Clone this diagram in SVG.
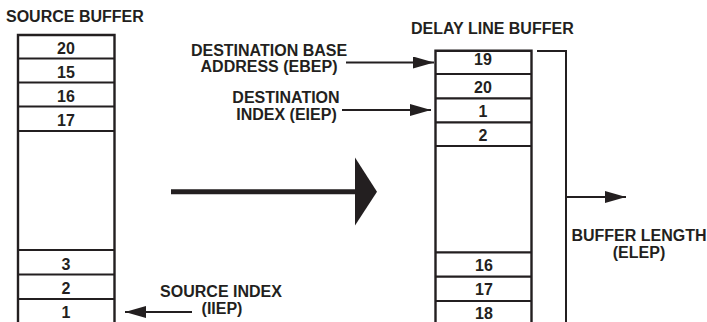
<svg xmlns="http://www.w3.org/2000/svg" width="707" height="322" viewBox="0 0 707 322">
<style>
text{font-family:"Liberation Sans",Arial,sans-serif;font-weight:bold;font-size:16px;fill:#231f20}
.m{text-anchor:middle}
.box{fill:none;stroke:#231f20;stroke-width:2.4}
.sep{stroke:#231f20;stroke-width:2.2}
.conn{fill:none;stroke:#231f20;stroke-width:2}
</style>
<defs>
<marker id="ah" markerUnits="userSpaceOnUse" markerWidth="21" markerHeight="12" refX="21" refY="6" orient="auto">
<path d="M0,0 L21,6 L0,12 z" fill="#231f20"/>
</marker>
</defs>
<rect width="707" height="322" fill="#fff"/>
<text x="6" y="21.5">SOURCE BUFFER</text>
<text x="411" y="34">DELAY LINE BUFFER</text>
<g id="source-buffer">
<path class="box" d="M18,330 V35 H114.5 V330"/>
<path class="sep" d="M18,58.5 H114.5 M18,82.5 H114.5 M18,106.5 H114.5 M18,131 H114.5 M18,250 H114.5 M18,274.5 H114.5 M18,299 H114.5"/>
<text class="m" x="66" y="54">20</text>
<text class="m" x="66" y="78">15</text>
<text class="m" x="66" y="102">16</text>
<text class="m" x="66" y="126">17</text>
<text class="m" x="66" y="269.5">3</text>
<text class="m" x="66" y="294">2</text>
<text class="m" x="66" y="318">1</text>
</g>
<g id="delay-buffer">
<path class="box" d="M435.5,330 V50.7 H531.5 V330"/>
<path class="sep" d="M435.5,74 H531.5 M435.5,98.3 H531.5 M435.5,122.3 H531.5 M435.5,146 H531.5 M435.5,252.3 H531.5 M435.5,276.7 H531.5 M435.5,301 H531.5"/>
<text class="m" x="483" y="65">19</text>
<text class="m" x="483" y="93.3">20</text>
<text class="m" x="483" y="117.3">1</text>
<text class="m" x="483" y="141">2</text>
<text class="m" x="484" y="270.5">16</text>
<text class="m" x="484" y="295">17</text>
<text class="m" x="484" y="318.5">18</text>
</g>
<g id="label-ebep">
<text class="m" x="269" y="55.5">DESTINATION BASE</text>
<text class="m" x="269" y="71.5">ADDRESS (EBEP)</text>
</g>
<g id="label-eiep">
<text class="m" x="286" y="103">DESTINATION</text>
<text class="m" x="286.5" y="119.5">INDEX (EIEP)</text>
</g>
<g id="label-iiep">
<text class="m" x="221" y="297">SOURCE INDEX</text>
<text class="m" x="222" y="314">(IIEP)</text>
</g>
<g id="label-elep">
<text class="m" x="639" y="241">BUFFER LENGTH</text>
<text class="m" x="639" y="258">(ELEP)</text>
</g>
<g id="connectors">
<line class="conn" x1="346" y1="62.5" x2="434" y2="62.5" marker-end="url(#ah)"/>
<line class="conn" x1="342" y1="110" x2="431" y2="110" marker-end="url(#ah)"/>
<line class="conn" x1="192" y1="312" x2="125" y2="312" marker-end="url(#ah)"/>
<path class="conn" d="M537,51 H566 V330" stroke-width="1.8"/>
<line class="conn" x1="566" y1="197" x2="626" y2="197" marker-end="url(#ah)"/>
<line x1="171" y1="191.7" x2="357" y2="191.7" stroke="#231f20" stroke-width="5"/>
<polygon points="355,157.5 377,191.7 355,225.5" fill="#231f20"/>
</g>
</svg>
